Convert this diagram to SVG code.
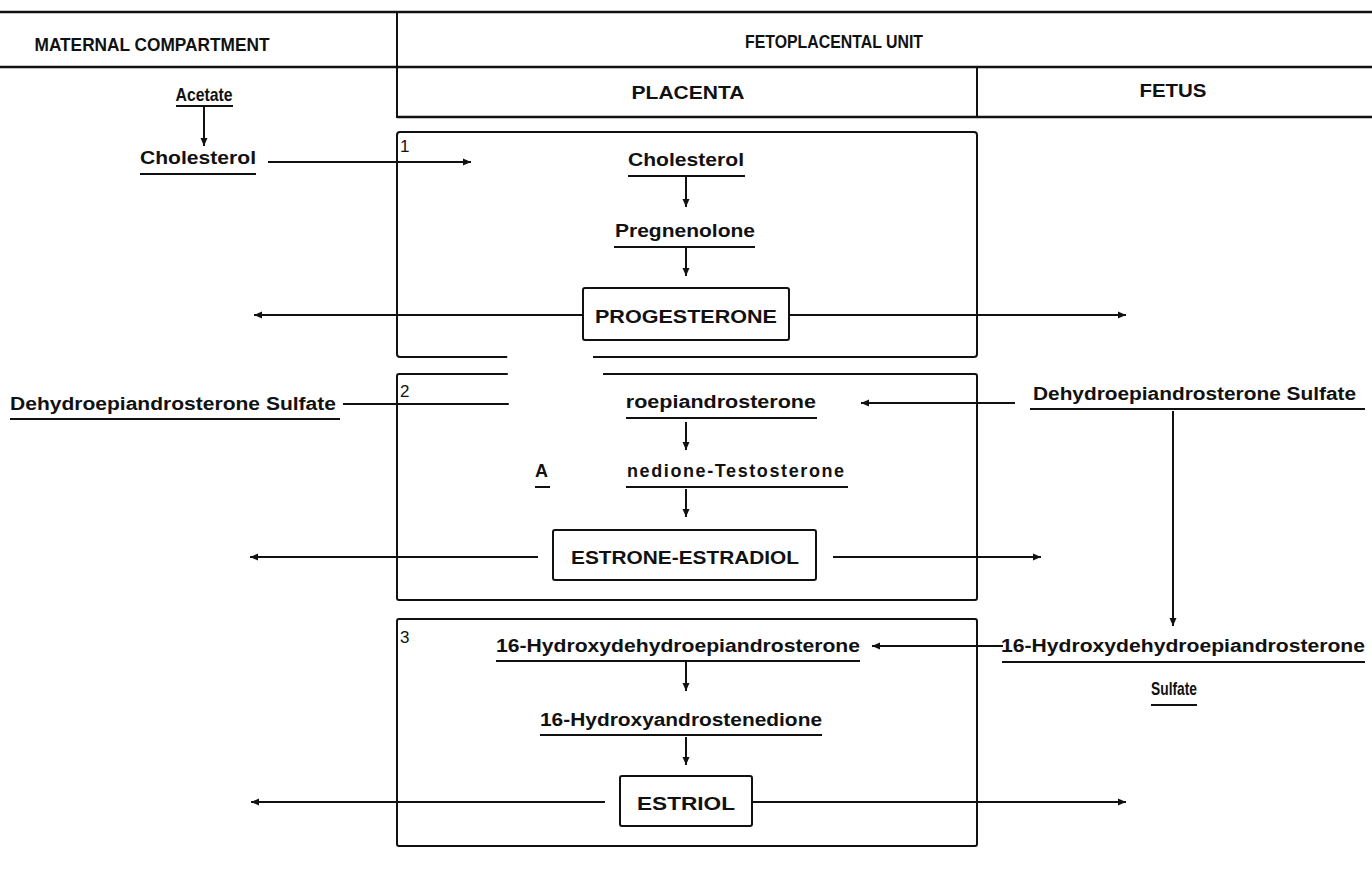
<svg xmlns="http://www.w3.org/2000/svg" width="1372" height="877" viewBox="0 0 1372 877">
<defs>
<style>
.t{font-family:"Liberation Sans",Arial,sans-serif;font-weight:bold;fill:#111;font-size:19px;}
.h{font-family:"Liberation Sans",Arial,sans-serif;font-weight:bold;fill:#111;font-size:19px;}
.n{font-family:"Liberation Sans",Arial,sans-serif;font-weight:bold;fill:#111;font-size:18px;}
.num{font-family:"Liberation Sans",Arial,sans-serif;font-weight:normal;fill:#111;font-size:17px;}
.ln{stroke:#111;stroke-width:2;fill:none;}
.hl{stroke:#111;stroke-width:2.5;fill:none;}
.ul{stroke:#111;stroke-width:2;}
.bx{stroke:#111;stroke-width:2;fill:#fff;}
.cb{stroke:#111;stroke-width:2;fill:none;}
.ar{stroke:#111;stroke-width:2;fill:none;marker-end:url(#ah);}
</style>
<marker id="ah" markerUnits="userSpaceOnUse" markerWidth="10" markerHeight="8" refX="8" refY="4" orient="auto">
<path d="M0,0.5 L8,4 L0,7.5 z" fill="#111"/>
</marker>
</defs>
<rect width="1372" height="877" fill="#fff"/>

<g id="header">
<line class="hl" x1="0" y1="12" x2="1372" y2="12"/>
<line class="hl" x1="0" y1="67" x2="1372" y2="67"/>
<line class="hl" x1="397" y1="117" x2="1372" y2="117"/>
<line class="ln" x1="397" y1="12" x2="397" y2="118"/>
<line class="ln" x1="977" y1="67" x2="977" y2="118"/>
<text class="h" x="152" y="51" text-anchor="middle" textLength="235" lengthAdjust="spacingAndGlyphs">MATERNAL COMPARTMENT</text>
<text class="h" x="834" y="48" text-anchor="middle" textLength="178" lengthAdjust="spacingAndGlyphs">FETOPLACENTAL UNIT</text>
<text class="h" x="688" y="99" text-anchor="middle" textLength="113" lengthAdjust="spacingAndGlyphs">PLACENTA</text>
<text class="h" x="1173" y="97" text-anchor="middle" textLength="67" lengthAdjust="spacingAndGlyphs">FETUS</text>
</g>

<g id="compartment-boxes">
<rect id="box1" class="cb" x="397" y="132" width="580" height="225" rx="3"/>
<rect id="box2" class="cb" x="397" y="374" width="580" height="226" rx="2"/>
<rect id="box3" class="cb" x="397" y="619" width="580" height="227" rx="2"/>
<text class="num" x="400" y="152">1</text>
<text class="num" x="400" y="397">2</text>
<text class="num" x="400" y="643">3</text>
</g>

<g id="connectors">
<line class="ar" x1="204" y1="107" x2="204" y2="146"/>
<line class="ar" x1="268" y1="162" x2="471" y2="162"/>
<line class="ar" x1="686" y1="177" x2="686" y2="207"/>
<line class="ar" x1="686" y1="248" x2="686" y2="276"/>
<line class="ar" x1="583" y1="315" x2="254" y2="315"/>
<line class="ar" x1="790" y1="315" x2="1126" y2="315"/>
<line class="ln" x1="343" y1="404" x2="512" y2="404"/>
<line class="ar" x1="1015" y1="403" x2="861" y2="403"/>
<line class="ar" x1="1173" y1="411" x2="1173" y2="626"/>
<line class="ar" x1="686" y1="422" x2="686" y2="450"/>
<line class="ar" x1="686" y1="489" x2="686" y2="517"/>
<line class="ar" x1="538" y1="557" x2="250" y2="557"/>
<line class="ar" x1="833" y1="557" x2="1041" y2="557"/>
<line class="ar" x1="1003" y1="646" x2="872" y2="646"/>
<line class="ar" x1="686" y1="662" x2="686" y2="691"/>
<line class="ar" x1="686" y1="737" x2="686" y2="765"/>
<line class="ar" x1="605" y1="802" x2="251" y2="802"/>
<line class="ar" x1="752" y1="802" x2="1126" y2="802"/>
</g>

<g id="maternal-acetate">
<text class="t" x="204" y="101" text-anchor="middle" textLength="57" lengthAdjust="spacingAndGlyphs">Acetate</text>
<line class="ul" x1="176" y1="106" x2="233" y2="106"/>
</g>
<g id="maternal-cholesterol">
<text class="t" x="198" y="164" text-anchor="middle" textLength="116" lengthAdjust="spacingAndGlyphs">Cholesterol</text>
<line class="ul" x1="140" y1="174" x2="256" y2="174"/>
</g>
<g id="placenta-cholesterol">
<text class="t" x="686" y="166" text-anchor="middle" textLength="116" lengthAdjust="spacingAndGlyphs">Cholesterol</text>
<line class="ul" x1="628" y1="176" x2="745" y2="176"/>
</g>
<g id="pregnenolone">
<text class="t" x="685" y="237" text-anchor="middle" textLength="140" lengthAdjust="spacingAndGlyphs">Pregnenolone</text>
<line class="ul" x1="614" y1="247" x2="755" y2="247"/>
</g>
<g id="progesterone">
<rect class="bx" x="583" y="288" width="206" height="52" rx="2"/>
<text class="t" x="686" y="323" text-anchor="middle" textLength="182" lengthAdjust="spacingAndGlyphs" font-size="20">PROGESTERONE</text>
</g>

<g id="maternal-dheas">
<text class="n" x="10" y="410" textLength="326" lengthAdjust="spacingAndGlyphs">Dehydroepiandrosterone Sulfate</text>
<line class="ul" x1="10" y1="419" x2="340" y2="419"/>
</g>
<g id="dhea">
<text class="n" x="688" y="408" text-anchor="middle" textLength="256" lengthAdjust="spacingAndGlyphs">Dehydroepiandrosterone</text>
<line class="ul" x1="560" y1="418" x2="817" y2="418"/>
</g>
<g id="fetal-dheas">
<text class="n" x="1033" y="400" textLength="323" lengthAdjust="spacingAndGlyphs">Dehydroepiandrosterone Sulfate</text>
<line class="ul" x1="1030" y1="409" x2="1365" y2="409"/>
</g>
<g id="androstenedione-testosterone">
<text class="n" x="535" y="477" style="letter-spacing:1.6px">Androste<tspan x="627">nedione-Testosterone</tspan></text>
<line class="ul" x1="535" y1="487" x2="848" y2="487"/>
</g>
<g id="estrone-estradiol">
<rect class="bx" x="553" y="530" width="263" height="50" rx="2"/>
<text class="n" x="685" y="564" text-anchor="middle" textLength="228" lengthAdjust="spacingAndGlyphs" font-size="20">ESTRONE-ESTRADIOL</text>
</g>

<g id="mask">
<polygon points="507,351 593,351 593,366 603,366 603,386 626,386 626,493 550,493 550,440 510,440" fill="#fff"/>
</g>

<g id="oh-dhea">
<text class="t" x="678" y="652" text-anchor="middle" textLength="364" lengthAdjust="spacingAndGlyphs" font-size="18">16-Hydroxydehydroepiandrosterone</text>
<line class="ul" x1="496" y1="661" x2="860" y2="661"/>
</g>
<g id="fetal-oh-dheas">
<text class="n" x="1183" y="652" text-anchor="middle" textLength="364" lengthAdjust="spacingAndGlyphs">16-Hydroxydehydroepiandrosterone</text>
<line class="ul" x1="1002" y1="662" x2="1365" y2="662"/>
<text class="t" x="1174" y="695" text-anchor="middle" textLength="46" lengthAdjust="spacingAndGlyphs" font-size="18">Sulfate</text>
<line class="ul" x1="1151" y1="705" x2="1197" y2="705"/>
</g>
<g id="oh-androstenedione">
<text class="n" x="681" y="726" text-anchor="middle" textLength="282" lengthAdjust="spacingAndGlyphs">16-Hydroxyandrostenedione</text>
<line class="ul" x1="540" y1="735" x2="822" y2="735"/>
</g>
<g id="estriol">
<rect class="bx" x="620" y="776" width="132" height="50" rx="2"/>
<text class="t" x="686" y="810" text-anchor="middle" textLength="98" lengthAdjust="spacingAndGlyphs" font-size="20">ESTRIOL</text>
</g>
</svg>
